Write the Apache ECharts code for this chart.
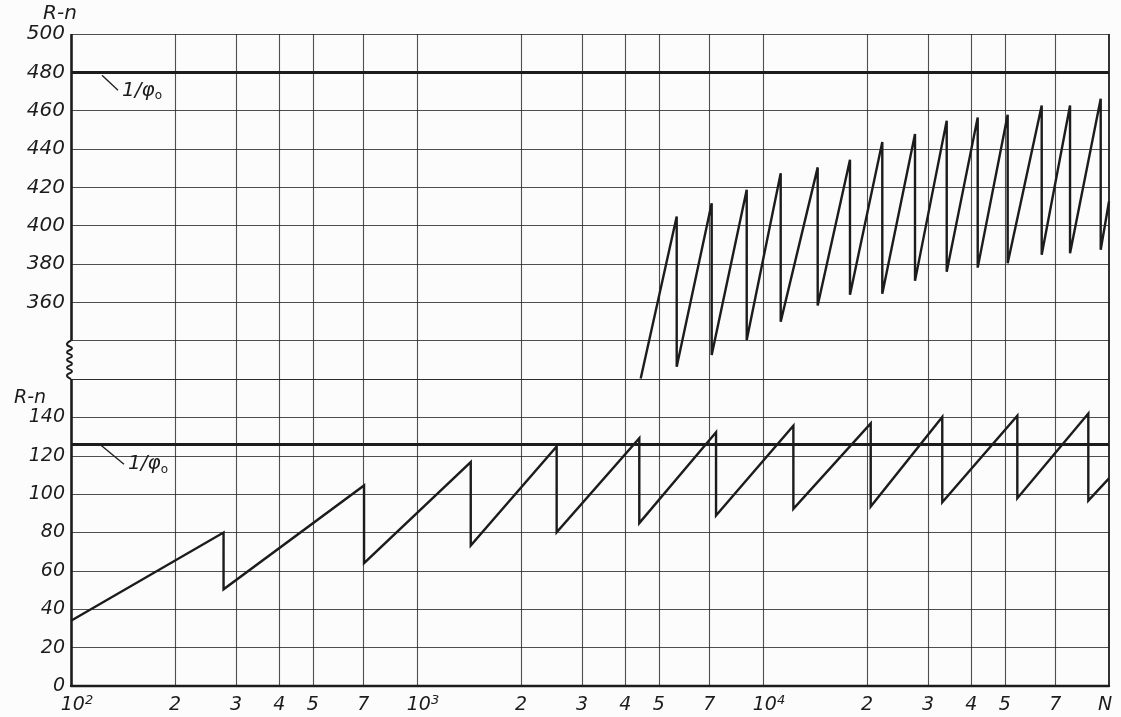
<!DOCTYPE html>
<html>
<head>
<meta charset="utf-8">
<script src="https://cdn.jsdelivr.net/npm/echarts@6/dist/echarts.min.js"></script>
<style>
  html, body { margin: 0; padding: 0; background: #fcfcfc; }
  #chart { width: 1121px; height: 717px; }
</style>
</head>
<body>
<div id="chart"></div>
<script>
// Lower sawtooth (scale 0..140): N at each corner (a drop repeats the same N) and R-n there
const lowerN = [100, 276, 276, 703, 703, 1430, 1430, 2533, 2533, 4390, 4390, 7316, 7316,
                12240, 12240, 20480, 20480, 32970, 32970, 54330, 54330, 87140, 87140, 100000];
const lowerR = [34, 80, 50.4, 104.5, 64, 116.7, 73.2, 124.9, 80.1, 129.2, 84.9, 132.2, 88.9,
                135.7, 92.3, 136.9, 93.5, 140.2, 95.7, 140.9, 97.9, 142, 96.6, 108.2];

// Upper sawtooth (scale 320..500)
const upperN = [4431, 5631, 5631, 7107, 7107, 8973, 8973, 11250, 11250, 14390, 14390,
                17840, 17840, 22120, 22120, 27500, 27500, 33960, 33960, 41740, 41740,
                50950, 50950, 63900, 63900, 77160, 77160, 94630, 94630, 100000];
const upperR = [320.3, 404.8, 326.4, 411.7, 332.5, 418.7, 340.4, 427.4, 349.9, 430.4, 358.3,
                434.4, 363.9, 443.6, 364.5, 447.8, 371.2, 454.8, 376.0, 456.5, 378.1,
                457.9, 380.4, 462.7, 384.8, 462.7, 385.6, 466.2, 387.4, 412.6];

// 1/phi_0 levels for the two scales
const upperPhi = 480;
const lowerPhi = 126;

// Vertical rulings of the log axis and their labels
const xTicks = [100, 200, 300, 400, 500, 700, 1000, 2000, 3000, 4000, 5000, 7000,
                10000, 20000, 30000, 40000, 50000, 70000, 100000];
const xTickLabels = ['10^2', '2', '3', '4', '5', '7', '10^3', '2', '3', '4', '5', '7',
                     '10^4', '2', '3', '4', '5', '7', 'N'];

const ink = '#1c1c1c';
const rule = 'rgba(35,35,35,0.8)';
const FONT = 'DejaVu Sans';

const zip = (a, b) => a.map((v, i) => [v, b[i]]);

function tickText(s) {
  if (s.indexOf('^') > 0) {
    const p = s.split('^');
    return '{b|' + p[0] + '}{s|' + p[1] + '}';
  }
  return '{b|' + s + '}';
}

function verticalRules(withLabels, skipLeft) {
  const items = [];
  xTicks.forEach((n, i) => {
    const left = i === 0, right = i === xTicks.length - 1;
    if (left && skipLeft) return;
    const item = {
      xAxis: n,
      lineStyle: {
        color: (left || right) ? ink : rule,
        width: left ? 2.6 : (right ? 1.8 : 1.1),
        type: 'solid'
      },
      label: { show: false }
    };
    if (withLabels) {
      const isPow = xTickLabels[i].indexOf('^') > 0;
      item.label = {
        show: true,
        position: 'start',
        distance: 8,
        formatter: tickText(xTickLabels[i]),
        padding: isPow ? [0, 0, 0, 12] : (right ? [0, 8, 0, 0] : 0),
        rich: {
          b: { fontFamily: FONT, fontStyle: 'italic', fontSize: 19, color: ink, lineHeight: 22 },
          s: { fontFamily: FONT, fontStyle: 'italic', fontSize: 13, color: ink, lineHeight: 13, verticalAlign: 'top' }
        }
      };
    }
    items.push(item);
  });
  return items;
}

const chart = echarts.init(document.getElementById('chart'), null, { renderer: 'canvas' });

const xAxisBase = {
  type: 'log',
  logBase: 10,
  min: 100,
  max: 100000,
  axisLine: { show: false },
  axisTick: { show: false },
  axisLabel: { show: false },
  splitLine: { show: false },
  minorTick: { show: false },
  minorSplitLine: { show: false }
};

const yLabel = (size) => ({
  fontFamily: FONT, fontStyle: 'italic', fontSize: size, color: ink, margin: 6
});

const option = {
  backgroundColor: '#fcfcfc',
  animation: false,
  grid: [
    { left: 71, right: 12, top: 34, height: 345 },
    { left: 71, right: 12, top: 379, height: 307 }
  ],
  xAxis: [
    Object.assign({ gridIndex: 0 }, xAxisBase),
    Object.assign({ gridIndex: 1 }, xAxisBase, {
      axisLine: { show: true, onZero: false, lineStyle: { color: ink, width: 2.4 } }
    })
  ],
  yAxis: [
    {
      gridIndex: 0, type: 'value', min: 320, max: 500, interval: 20,
      name: 'R-n', nameLocation: 'end', nameGap: 8,
      nameTextStyle: { fontFamily: FONT, fontStyle: 'italic', fontSize: 20, color: ink, padding: [0, 22, 0, 0] },
      axisLine: { show: false }, axisTick: { show: false },
      axisLabel: Object.assign(yLabel(20), { formatter: v => (v < 360 ? '' : String(v)) }),
      splitLine: { show: true, lineStyle: { color: rule, width: 1.1 } }
    },
    {
      gridIndex: 1, type: 'value', min: 0, max: 160, interval: 20,
      name: 'R-n', nameLocation: 'end', nameGap: -30,
      nameTextStyle: { fontFamily: FONT, fontStyle: 'italic', fontSize: 19, color: ink, padding: [0, 82, 0, 0] },
      axisLine: { show: false }, axisTick: { show: false },
      axisLabel: Object.assign(yLabel(19), { formatter: v => (v > 140 ? '' : String(v)) }),
      splitLine: { show: true, lineStyle: { color: rule, width: 1.1 } }
    }
  ],
  series: [
    {
      name: 'upper',
      type: 'line',
      xAxisIndex: 0, yAxisIndex: 0,
      data: zip(upperN, upperR),
      showSymbol: false,
      clip: false,
      lineStyle: { color: ink, width: 2.4, join: 'miter', miterLimit: 6 },
      z: 5,
      markLine: {
        silent: true, symbol: ['none', 'none'], animation: false,
        data: verticalRules(false, true).concat([
          [ { coord: [100, 340], lineStyle: { color: ink, width: 2.6, type: 'solid' }, label: { show: false } },
            { coord: [100, 500] } ],
          { yAxis: upperPhi, lineStyle: { color: ink, width: 3.2, type: 'solid' }, label: { show: false } }
        ])
      }
    },
    {
      name: 'lower',
      type: 'line',
      xAxisIndex: 1, yAxisIndex: 1,
      data: zip(lowerN, lowerR),
      showSymbol: false,
      clip: false,
      lineStyle: { color: ink, width: 2.4, join: 'miter', miterLimit: 6 },
      z: 5,
      markLine: {
        silent: true, symbol: ['none', 'none'], animation: false,
        data: verticalRules(true, false).concat([
          { yAxis: lowerPhi, lineStyle: { color: ink, width: 3.2, type: 'solid' }, label: { show: false } }
        ])
      }
    }
  ]
};

chart.setOption(option);

// Axis break squiggle and the 1/phi_0 call-outs, placed from the axis scales
function decorations() {
  const px = (g, n, v) => chart.convertToPixel({ gridIndex: g }, [n, v]);
  const top = px(0, 100, 340);
  const bot = px(0, 100, 320);
  const pts = [];
  const steps = 10;
  for (let i = 0; i <= steps; i++) {
    const y = top[1] + (bot[1] - top[1]) * i / steps;
    const x = (i === 0 || i === steps) ? top[0] : (i % 2 ? top[0] - 4 : top[0] + 1);
    pts.push([x, y]);
  }

  const callout = (g, lvl, dx0, dy0, dx1, dy1) => {
    const a = px(g, 100, lvl);
    return [
      {
        type: 'line', silent: true, z: 10,
        shape: { x1: a[0] + dx0, y1: a[1] + dy0, x2: a[0] + dx1, y2: a[1] + dy1 },
        style: { stroke: ink, lineWidth: 1.3 }
      },
      {
        type: 'text', silent: true, z: 10,
        x: a[0] + dx1 + 4, y: a[1] + dy1 - 12,
        style: {
          text: '{a|1/φ}{o|o}',
          rich: {
            a: { fontFamily: FONT, fontStyle: 'italic', fontSize: 20, fill: ink, lineHeight: 24 },
            o: { fontFamily: FONT, fontSize: 12, fill: ink, lineHeight: 12, verticalAlign: 'bottom' }
          }
        }
      }
    ];
  };

  chart.setOption({
    graphic: [
      {
        type: 'polyline', silent: true, z: 10,
        shape: { points: pts, smooth: 0.6 },
        style: { stroke: ink, lineWidth: 2, fill: null }
      }
    ].concat(callout(0, upperPhi, 31, 3, 47, 18))
     .concat(callout(1, lowerPhi, 30, 1, 53, 20))
  });
}
decorations();
</script>
</body>
</html>
